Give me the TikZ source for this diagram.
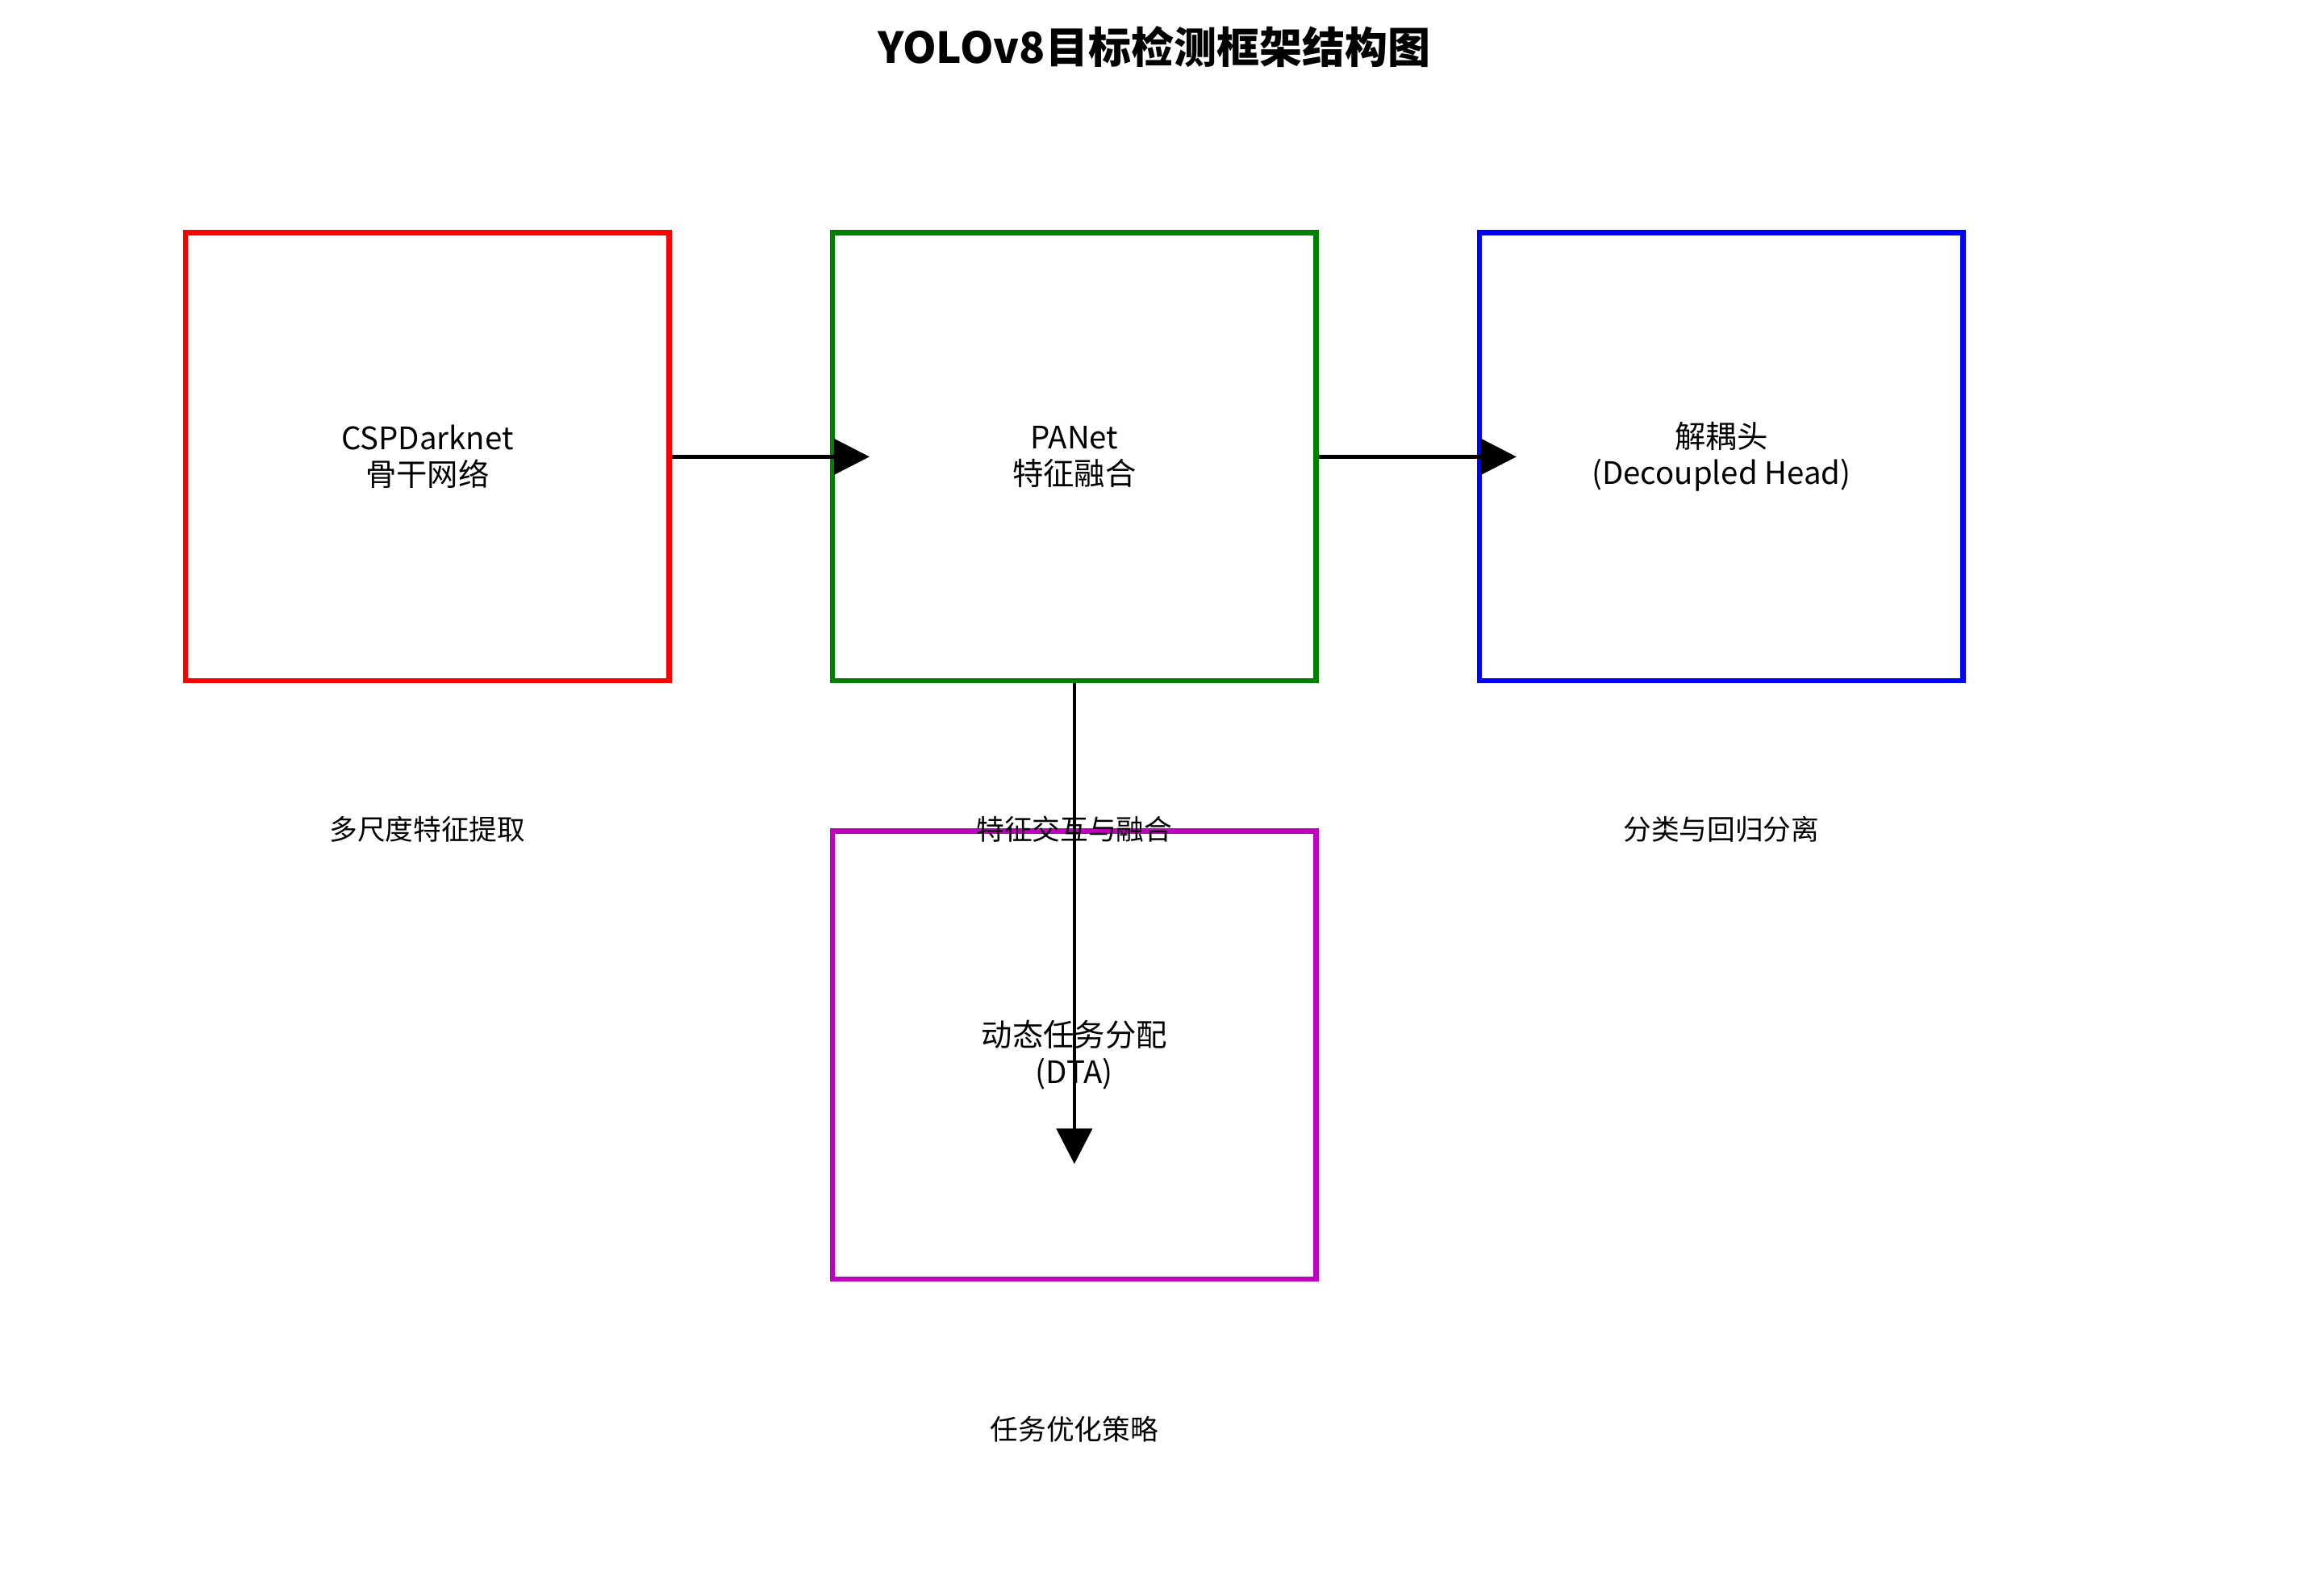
\documentclass[tikz,border=0pt]{standalone}
\usepackage{fontspec}
\setmainfont{Noto Sans CJK SC}
\usetikzlibrary{arrows.meta}
\begin{document}
\begin{tikzpicture}[x=1pt,y=-1pt,
  box/.style={draw, line width=3.5pt, minimum width=328pt, minimum height=304pt, inner sep=0pt, align=center, font=\fontsize{21}{25}\selectfont},
  sub/.style={font=\fontsize{19}{22}\selectfont},
  conn/.style={line width=2.5pt, -{Triangle[length=24pt,width=24pt]}}]
\useasboundingbox (0,0) rectangle (1560,1083);
\node[font=\bfseries\fontsize{29}{34}\selectfont] (title) at (783,32) {YOLOv8目标检测框架结构图};
\node[box, draw={rgb,255:red,255;green,0;blue,0}] (bb) at (290,310) {CSPDarknet\\骨干网络};
\node[box, draw={rgb,255:red,0;green,128;blue,0}] (pan) at (729,310) {PANet\\特征融合};
\node[box, draw={rgb,255:red,0;green,0;blue,255}] (head) at (1168,310) {解耦头\\(Decoupled Head)};
\node[box, draw={rgb,255:red,191;green,0;blue,191}] (dta) at (729,716) {动态任务分配\\(DTA)};
\node[sub] (s1) at (290,563) {多尺度特征提取};
\node[sub] (s2) at (729,563) {特征交互与融合};
\node[sub] (s3) at (1168,563) {分类与回归分离};
\node[sub] (s4) at (729,970) {任务优化策略};
\coordinate (e1) at (590,310);
\coordinate (e2) at (1029,310);
\coordinate (e3) at (729,790);
\draw[conn] (bb.east) -- (e1);
\draw[conn] (pan.east) -- (e2);
\draw[conn] (pan.south) -- (e3);
\end{tikzpicture}
\end{document}
